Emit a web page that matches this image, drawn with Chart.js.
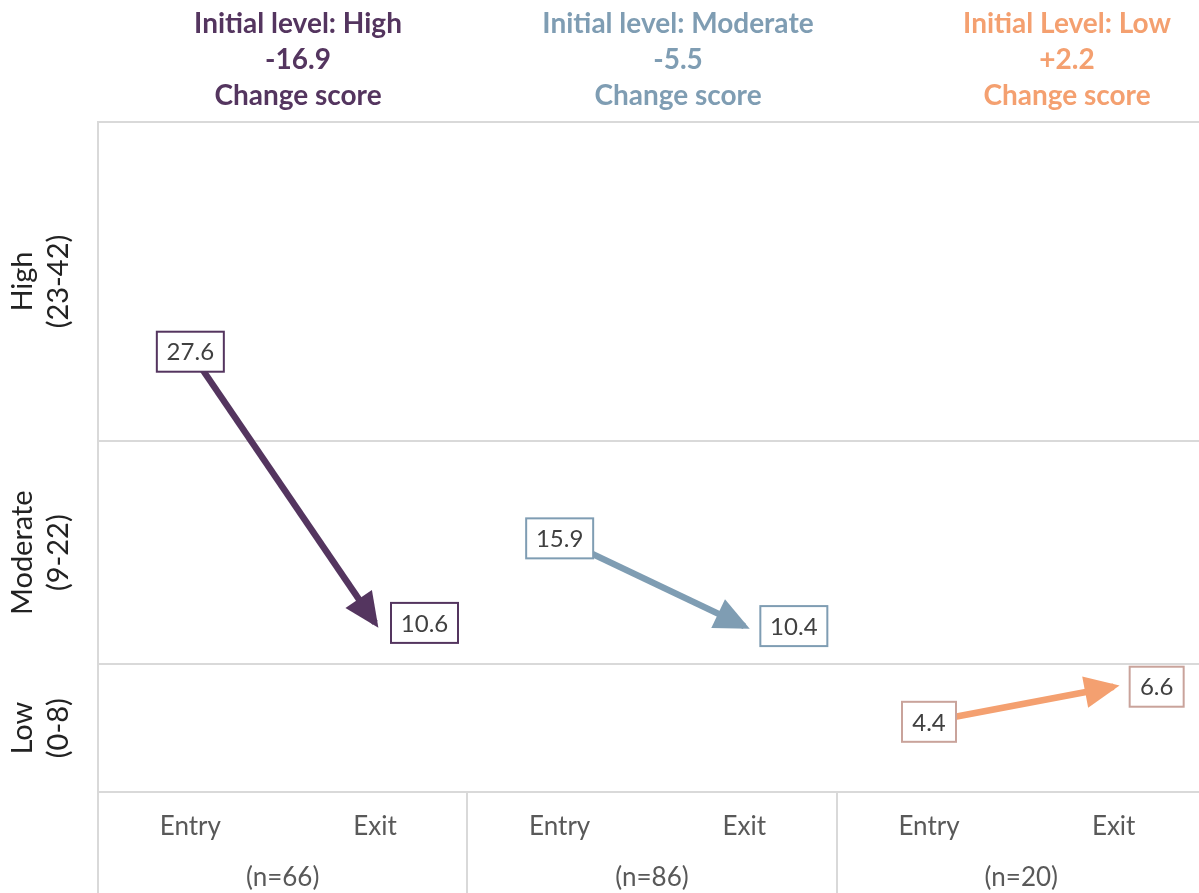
<!DOCTYPE html>
<html>
<head>
<meta charset="utf-8">
<title>Change score by initial level</title>
<script src="https://cdn.jsdelivr.net/npm/chart.js@4"></script>
<style>
  html, body { margin: 0; padding: 0; background: #fff; overflow: hidden; }
  #wrap { width: 1206px; height: 893px; }
</style>
</head>
<body>
<div id="wrap"><canvas id="slopeChart"></canvas></div>
<script>
// categories on the x axis (Entry / Exit per group)
const stageLabels = ['Entry', 'Exit', 'Entry', 'Exit', 'Entry', 'Exit'];

// groups by initial level
const groupTitles = ['Initial level: High', 'Initial level: Moderate', 'Initial Level: Low'];
const changeScores = ['-16.9', '-5.5', '+2.2'];
const sampleSizes = ['(n=66)', '(n=86)', '(n=20)'];

// mean scores
const entryScores = [27.6, 15.9, 4.4];
const exitScores = [10.6, 10.4, 6.6];

// level bands on the y axis
const bandBounds = [0, 8, 22, 42];
const bandLabels = [['Low', '(0-8)'], ['Moderate', '(9-22)'], ['High', '(23-42)']];

const groupColors = ['#54355f', '#7f9db3', '#f4a070'];
const boxColors = ['#54355f', '#7f9db3', '#c9a39b'];
const gridColor = '#d9d9d9';
const font = 'Lato, "Open Sans", sans-serif';

// each group is its own dataset, only filled at its two categories
const datasets = groupTitles.map((t, g) => {
  const data = stageLabels.map(() => null);
  data[g * 2] = entryScores[g];
  data[g * 2 + 1] = exitScores[g];
  return {
    label: t,
    data: data,
    borderColor: groupColors[g],
    borderWidth: 6.5,
    borderCapStyle: 'butt',
    pointRadius: 0,
    spanGaps: false,
  };
});

const slopePlugin = {
  id: 'slopeDecor',
  beforeDraw(chart) {
    const { ctx, chartArea, scales } = chart;
    const x = scales.x;
    ctx.save();
    ctx.strokeStyle = gridColor;
    ctx.lineWidth = 2;
    // panel dividers below the axis
    for (let g = 0; g <= groupTitles.length; g++) {
      let px;
      if (g === 0) px = chartArea.left;
      else if (g === groupTitles.length) px = chartArea.right;
      else px = (x.getPixelForTick(g * 2 - 1) + x.getPixelForTick(g * 2)) / 2;
      ctx.beginPath();
      ctx.moveTo(Math.round(px), chartArea.bottom);
      ctx.lineTo(Math.round(px), chart.height);
      ctx.stroke();
    }
    ctx.restore();
  },
  afterDatasetsDraw(chart) {
    const { ctx, scales } = chart;
    const x = scales.x, y = scales.y;
    ctx.save();

    // arrow heads
    chart.data.datasets.forEach((ds, g) => {
      const meta = chart.getDatasetMeta(g);
      const p0 = meta.data[g * 2], p1 = meta.data[g * 2 + 1];
      const dx = p1.x - p0.x, dy = p1.y - p0.y;
      const len = Math.sqrt(dx * dx + dy * dy);
      const ux = dx / len, uy = dy / len;
      const tipX = p1.x + ux * 6, tipY = p1.y + uy * 6;
      const headLen = 35, headHalf = 16;
      const bx = tipX - ux * headLen, by = tipY - uy * headLen;
      ctx.fillStyle = groupColors[g];
      ctx.beginPath();
      ctx.moveTo(tipX, tipY);
      ctx.lineTo(bx - uy * headHalf, by + ux * headHalf);
      ctx.lineTo(bx + uy * headHalf, by - ux * headHalf);
      ctx.closePath();
      ctx.fill();
    });

    // value boxes
    ctx.font = '24px ' + font;
    ctx.textAlign = 'center';
    ctx.textBaseline = 'middle';
    chart.data.datasets.forEach((ds, g) => {
      const meta = chart.getDatasetMeta(g);
      [0, 1].forEach(k => {
        const pt = meta.data[g * 2 + k];
        const txt = ds.data[g * 2 + k].toFixed(1);
        const w = Math.round(ctx.measureText(txt).width) + 20;
        const h = 40;
        const left = k === 0 ? pt.x - w / 2 : pt.x + 16;
        const top = pt.y - h / 2;
        ctx.fillStyle = '#fff';
        ctx.fillRect(left, top, w, h);
        ctx.strokeStyle = boxColors[g];
        ctx.lineWidth = 2;
        ctx.strokeRect(left, top, w, h);
        ctx.fillStyle = '#404040';
        ctx.fillText(txt, left + w / 2, top + h / 2 + 1);
      });
    });

    // band labels on the left, rotated
    ctx.fillStyle = '#222';
    ctx.font = '29px ' + font;
    bandLabels.forEach((lines, i) => {
      const mid = (y.getPixelForValue(bandBounds[i]) + y.getPixelForValue(bandBounds[i + 1])) / 2;
      ctx.save();
      ctx.translate(0, mid);
      ctx.rotate(-Math.PI / 2);
      ctx.fillText(lines[0], 0, 23);
      ctx.fillText(lines[1], 0, 59);
      ctx.restore();
    });

    // sample sizes under each panel
    ctx.fillStyle = '#595959';
    ctx.font = '26px ' + font;
    sampleSizes.forEach((s, g) => {
      const cx = (x.getPixelForTick(g * 2) + x.getPixelForTick(g * 2 + 1)) / 2;
      ctx.fillText(s, cx, 878);
    });

    // panel titles
    const titleX = [298, 678, 1067];
    ctx.font = 'bold 28px ' + font;
    groupTitles.forEach((t, g) => {
      ctx.fillStyle = groupColors[g];
      ctx.fillText(t, titleX[g], 24);
      ctx.fillText(changeScores[g], titleX[g], 60);
      ctx.fillText('Change score', titleX[g], 96);
    });
    ctx.restore();
  }
};

new Chart(document.getElementById('slopeChart'), {
  type: 'line',
  data: { labels: stageLabels, datasets: datasets },
  options: {
    responsive: true,
    maintainAspectRatio: false,
    animation: false,
    layout: { padding: { top: 122, right: 0, left: 0, bottom: 0 } },
    plugins: { legend: { display: false }, tooltip: { enabled: false } },
    scales: {
      x: {
        type: 'category',
        offset: true,
        grid: { display: false },
        border: { display: false },
        ticks: {
          color: '#595959',
          font: { family: font, size: 26 },
          padding: 11,
          maxRotation: 0,
          autoSkip: false,
        },
        afterFit(scale) { scale.height = 101; },
      },
      y: {
        min: 0,
        max: 42,
        afterBuildTicks(scale) { scale.ticks = bandBounds.map(v => ({ value: v })); },
        grid: { color: gridColor, lineWidth: 2, drawTicks: false },
        border: { display: true, color: gridColor, width: 2 },
        ticks: { display: false },
        afterFit(scale) { scale.width = 98; },
      },
    },
  },
  plugins: [slopePlugin],
});
</script>
</body>
</html>
